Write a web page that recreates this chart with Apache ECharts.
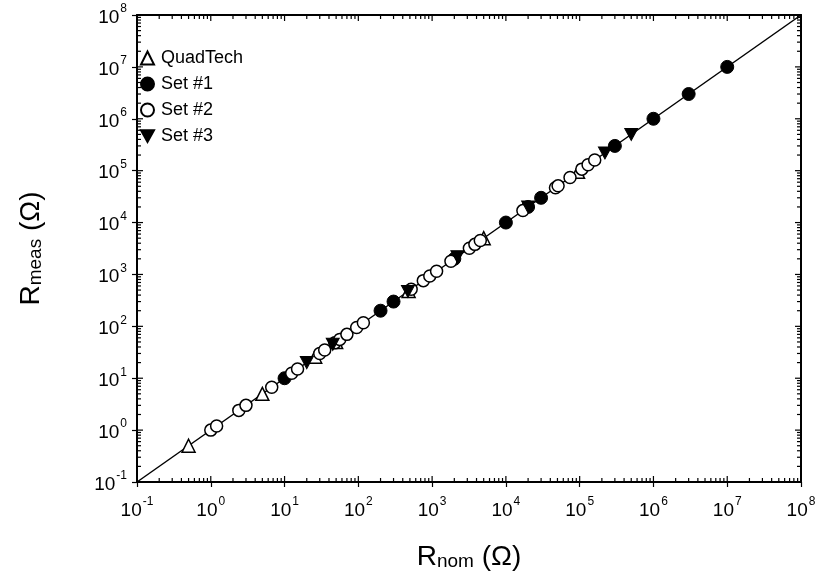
<!DOCTYPE html>
<html><head><meta charset="utf-8">
<script src="https://cdn.jsdelivr.net/npm/echarts@6/dist/echarts.min.js"></script>
<style>html,body{margin:0;padding:0;background:#fff}#c{width:822px;height:580px}</style>
</head><body><div id="c"></div>
<script>
// Data (Ω)
const quadNom  = [0.5, 5, 26, 50, 480, 5000, 95000];
const quadMeas = [0.5, 5, 26, 50, 480, 5000, 95000];
const set1Nom  = [10, 200, 300, 2000, 10000, 20000, 30000, 300000, 1000000, 3000000, 10000000];
const set1Meas = [10, 200, 300, 2000, 10000, 20000, 30000, 300000, 1000000, 3000000, 10000000];
const set2Nom  = [1.0, 1.2, 2.4, 3.0, 6.7, 12.5, 15, 30, 35, 48, 56, 70, 95, 117, 520, 760, 930, 1150, 1800, 3200, 3800, 4500, 17000, 47000, 51000, 74000, 107000, 130000, 160000];
const set2Meas = [1.0, 1.2, 2.4, 3.0, 6.7, 12.5, 15, 30, 35, 48, 56, 70, 95, 117, 520, 760, 930, 1150, 1800, 3200, 3800, 4500, 17000, 47000, 51000, 74000, 107000, 130000, 160000];
const set3Nom  = [20, 45, 470, 2200, 20000, 220000, 500000];
const set3Meas = [20, 45, 470, 2200, 20000, 220000, 500000];
const lineNom  = [0.1, 1e8];
const lineMeas = [0.1, 1e8];
const seriesNames = ['QuadTech', 'Set #1', 'Set #2', 'Set #3'];
const axisMin = 0.1, axisMax = 1e8;
const decades = [0.1, 1, 10, 100, 1000, 10000, 100000, 1e6, 1e7, 1e8];

const pair = (a, b) => a.map((v, i) => [v, b[i]]);
// minor tick positions (2..9 × decade)
const minorVals = [];
decades.slice(0, -1).forEach(d => { for (let m = 2; m <= 9; m++) minorVals.push(m * d); });

const FONT = 'Liberation Sans, Arial, sans-serif';
const invTri = 'path://M0,0 L10,0 L5,9 Z';

const labelFmt = v => {
  const e = Math.round(Math.log10(v));
  return '{b|10}{s|' + e + '}';
};
const labelRich = {
  b: { fontSize: 19, fontFamily: FONT, color: '#000', verticalAlign: 'bottom', lineHeight: 24 },
  s: { fontSize: 12, fontFamily: FONT, color: '#000', verticalAlign: 'top', lineHeight: 24, padding: [0, 0, 0, 1] }
};

const chart = echarts.init(document.getElementById('c'), null, { renderer: 'canvas' });

function tickItem(params, api) {
  const v = api.value(0);
  const kind = api.value(1); // 0 minor, 1 major
  const len = kind ? 6 : 4;
  const pb = api.coord([v, axisMin]);
  const pt = api.coord([v, axisMax]);
  const ql = api.coord([axisMin, v]);
  const qr = api.coord([axisMax, v]);
  const st = { stroke: '#000', lineWidth: 1.2 };
  const ch = [
    { type: 'line', shape: { x1: pb[0], y1: pb[1], x2: pb[0], y2: pb[1] - len }, style: st },
    { type: 'line', shape: { x1: pt[0], y1: pt[1], x2: pt[0], y2: pt[1] + len }, style: st },
    { type: 'line', shape: { x1: ql[0], y1: ql[1], x2: ql[0] + len, y2: ql[1] }, style: st },
    { type: 'line', shape: { x1: qr[0], y1: qr[1], x2: qr[0] - len, y2: qr[1] }, style: st }
  ];
  return { type: 'group', children: ch };
}

const tickData = minorVals.map(v => [v, 0]).concat(decades.map(v => [v, 1]));

const baseAxis = {
  type: 'log', logBase: 10, min: axisMin, max: axisMax, interval: 1,
  splitLine: { show: false },
  axisLine: { show: true, lineStyle: { color: '#000', width: 2 } }
};

const titleRich = {
  R: { fontSize: 28, fontFamily: FONT, color: '#000', verticalAlign: 'bottom', lineHeight: 32 },
  sub: { fontSize: 19, fontFamily: FONT, color: '#000', verticalAlign: 'bottom', lineHeight: 27 }
};

chart.setOption({
  animation: false,
  backgroundColor: '#fff',
  grid: { left: 137, right: 21, top: 15, bottom: 98, show: false },
  legend: {
    orient: 'vertical', left: 135, top: 44, itemGap: 8,
    itemWidth: 13, itemHeight: 13,
    data: seriesNames,
    textStyle: { fontSize: 18, fontFamily: FONT, color: '#000', padding: [0, 0, 0, 2] }
  },
  xAxis: [
    Object.assign({}, baseAxis, {
      position: 'bottom',
      axisTick: { show: true, inside: false, length: 5, lineStyle: { color: '#000', width: 1.2 } },
      axisLabel: { formatter: labelFmt, rich: labelRich, margin: 14 },
      name: '{R|R}{sub|nom}{R| (Ω)}', nameLocation: 'middle', nameGap: 57,
      nameTextStyle: { rich: titleRich }
    }),
    Object.assign({}, baseAxis, {
      position: 'top', axisTick: { show: false }, axisLabel: { show: false }
    })
  ],
  yAxis: [
    Object.assign({}, baseAxis, {
      position: 'left',
      axisTick: { show: true, inside: false, length: 5, lineStyle: { color: '#000', width: 1.2 } },
      axisLabel: { formatter: labelFmt, rich: labelRich, margin: 10 },
      name: '{R|R}{sub|meas}{R| (Ω)}', nameLocation: 'middle', nameGap: 92, nameRotate: 90,
      nameTextStyle: { rich: titleRich }
    }),
    Object.assign({}, baseAxis, {
      position: 'right', axisTick: { show: false }, axisLabel: { show: false }
    })
  ],
  series: [
    {
      type: 'custom', name: 'ticks', renderItem: tickItem, data: tickData,
      xAxisIndex: 0, yAxisIndex: 0, silent: true, clip: false, z: 1
    },
    {
      type: 'line', name: 'fit', data: pair(lineNom, lineMeas), symbol: 'none',
      lineStyle: { color: '#000', width: 1.5 }, z: 2, silent: true
    },
    {
      type: 'scatter', name: 'QuadTech', data: pair(quadNom, quadMeas),
      symbol: 'triangle', symbolSize: 13,
      itemStyle: { color: '#fff', borderColor: '#000', borderWidth: 1.5, opacity: 1 }, z: 3
    },
    {
      type: 'scatter', name: 'Set #1', data: pair(set1Nom, set1Meas),
      symbol: 'circle', symbolSize: 13,
      itemStyle: { color: '#000', borderColor: '#000', borderWidth: 1, opacity: 1 }, z: 4
    },
    {
      type: 'scatter', name: 'Set #2', data: pair(set2Nom, set2Meas),
      symbol: 'circle', symbolSize: 12,
      itemStyle: { color: '#fff', borderColor: '#000', borderWidth: 1.5, opacity: 1 }, z: 5
    },
    {
      type: 'scatter', name: 'Set #3', data: pair(set3Nom, set3Meas),
      symbol: invTri, symbolSize: [13, 12],
      itemStyle: { color: '#000', borderColor: '#000', borderWidth: 1, opacity: 1 }, z: 6
    }
  ]
});
</script></body></html>
